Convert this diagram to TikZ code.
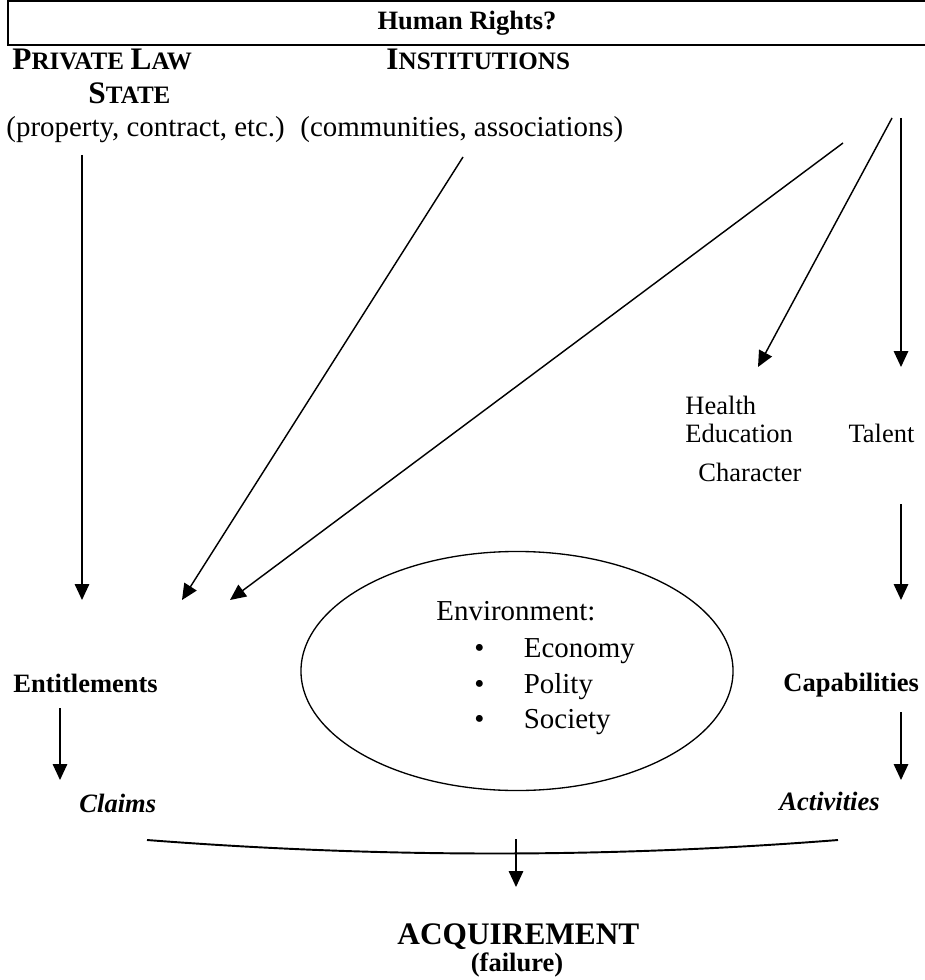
\documentclass[12pt,tikz,border=0pt]{standalone}
\usepackage{fontspec}
\setmainfont{Liberation Serif}
\usepackage{tikz}
\usetikzlibrary{
    arrows.meta,
    shapes.geometric
}

% big initial + reduced capitals
\newcommand{\bigsc}[2]{{\fontsize{13}{15}\selectfont #1}{\fontsize{10.4}{12}\selectfont #2}}

\begin{document}
\begin{tikzpicture}[x=0.415pt, y=-0.415pt,
    txt/.style={
        anchor=base west,
        inner sep=0pt,
        font=\fontsize{12}{14}\selectfont
    },
    side/.style={
        anchor=base west,
        inner sep=0pt,
        font=\fontsize{11}{13}\selectfont
    },
    head/.style={
        anchor=base west,
        inner sep=0pt,
        font=\fontsize{11}{13}\selectfont\bfseries
    },
    topbox/.style={
        rectangle,
        draw=black,
        line width=0.8pt,
        font=\fontsize{11}{13}\selectfont\bfseries,
        minimum width=381pt,
        minimum height=15.8pt
    },
    env/.style={
        ellipse,
        draw=black,
        line width=0.55pt,
        minimum width=179.3pt,
        minimum height=99.2pt
    },
    arrow/.style={-{Triangle[length=6.6pt,width=6pt]}, line width=0.6pt},
    joint/.style={line width=0.8pt}
]
\useasboundingbox (0,0) rectangle (925,980);

% ===== TOP: banner and sources =====
\node[topbox] (rights) at (467,23) {Human Rights?};

\node[head] (privlaw) at (12,70) {\bigsc{P}{RIVATE} \bigsc{L}{AW}};
\node[head] (state) at (88,104) {\bigsc{S}{TATE}};
\node[txt] (property) at (6,137) {(property, contract, etc.)};
\node[head] (inst) at (386,70) {\bigsc{I}{NSTITUTIONS}};
\node[txt] (communities) at (300,137) {(communities, associations)};

% ===== RIGHT: personal endowments =====
\node[side] (health) at (685,414) {Health};
\node[side] (education) at (685,442) {Education};
\node[side] (talent) at (848,442) {Talent};
\node[side] (character) at (698,481) {Character};

% ===== MIDDLE: environment =====
\node[env] (environ) at (517,671) {};
\node[txt] (envlabel) at (436,620) {Environment:};
\node[txt] (economy) at (474,657) {\makebox[20.5pt][l]{\textbullet}Economy};
\node[txt] (polity) at (474,693) {\makebox[20.5pt][l]{\textbullet}Polity};
\node[txt] (society) at (474,728) {\makebox[20.5pt][l]{\textbullet}Society};

\node[head] (entitle) at (13,692) {Entitlements};
\node[head] (capab) at (783,691) {Capabilities};
\node[head, font=\fontsize{11}{13}\selectfont\bfseries\itshape] (claims) at (79,812) {Claims};
\node[head, font=\fontsize{11}{13}\selectfont\bfseries\itshape] (activ) at (779,810) {Activities};

% ===== BOTTOM: outcome =====
\node[head, font=\fontsize{13}{16}\selectfont\bfseries] (acquire) at (397,944) {ACQUIREMENT};
\node[head, anchor=base] (failure) at (517,971) {(failure)};

% arrow ends
\coordinate (s1) at (82,155);  \coordinate (t1) at (82,600);
\coordinate (s2) at (463,157); \coordinate (t2) at (182,600);
\coordinate (s3) at (843,143); \coordinate (t3) at (230,600);
\coordinate (s4) at (892,118); \coordinate (t4) at (758,367);
\coordinate (s5) at (901,118); \coordinate (t5) at (901,367);
\coordinate (s6) at (901,504); \coordinate (t6) at (901,600);
\coordinate (s7) at (60,708);  \coordinate (t7) at (60,780);
\coordinate (s8) at (901,712); \coordinate (t8) at (901,780);
\coordinate (cl) at (147,840); \coordinate (cr) at (838,840);
\coordinate (s9) at (516,839); \coordinate (t9) at (516,887);

\draw[arrow] (s1) -- (t1);
\draw[arrow] (s2) -- (t2);
\draw[arrow] (s3) -- (t3);
\draw[arrow] (s4) -- (t4);
\draw[arrow] (s5) -- (t5);
\draw[arrow] (s6) -- (t6);
\draw[arrow] (s7) -- (t7);
\draw[arrow] (s8) -- (t8);

% claims and activities meet
\draw[joint] (cl) .. controls (380,858) and (610,858) .. (cr);
\draw[arrow] (s9) -- (t9);

\end{tikzpicture}
\end{document}
